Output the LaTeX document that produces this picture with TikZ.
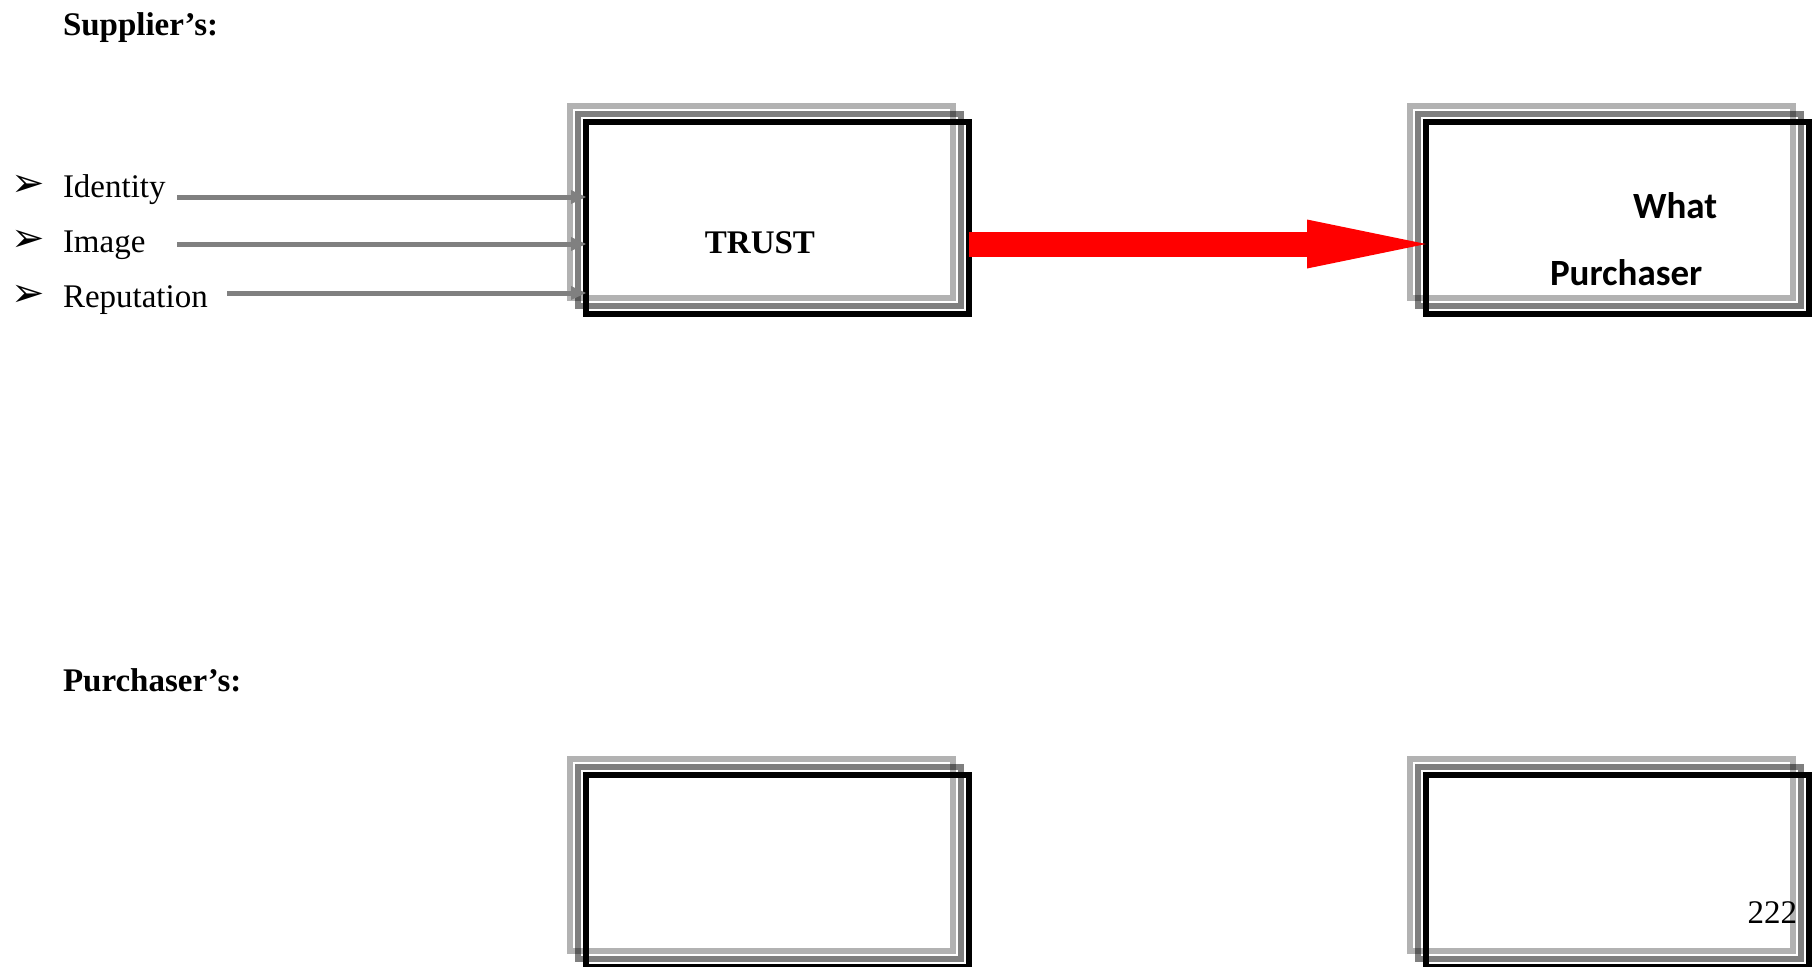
\documentclass[tikz,border=0pt]{standalone}
\usepackage{fontspec}
\setmainfont{Liberation Serif}
\newfontfamily\calibrifont{Carlito}
\newfontfamily\symbolfont{DejaVu Sans}
\usetikzlibrary{arrows.meta}
\definecolor{feedgray}{HTML}{808080}
\begin{document}
\begin{tikzpicture}[x=0.5pt,y=-0.5pt,
  every node/.style={inner sep=0pt,outer sep=0pt},
  txt/.style={font=\fontsize{16.5pt}{19pt}\selectfont},
  headtxt/.style={font=\fontsize{16.5pt}{19pt}\selectfont\bfseries},
  sanstxt/.style={font=\calibrifont\fontsize{18.5pt}{21pt}\selectfont\bfseries},
  bullettxt/.style={font=\symbolfont\fontsize{20pt}{22pt}\selectfont},
  mainbox/.style={draw=black,line width=3pt,minimum width=191.5pt,minimum height=96pt,anchor=north west},
  shadowlight/.style={draw=black,draw opacity=0.3,line width=3pt},
  shadowdark/.style={draw=black,draw opacity=0.5,line width=3pt},
  feed/.style={draw=feedgray,line width=2.5pt,-{Triangle[length=7.5pt,width=7pt,line width=0pt]}},
  bigarrow/.style={draw=red,line width=12.5pt,-{Triangle[length=59.5pt,width=24.5pt,line width=0pt]}}
]
\useasboundingbox (0,0) rectangle (1816,966);

% headings
\node[headtxt,anchor=base west] (supplier) at (63,35) {Supplier’s:};
\node[headtxt,anchor=base west] (purchaser) at (63,691) {Purchaser’s:};

% boxes
\node[mainbox] (trust) at (586,122) {};
\node[mainbox] (what) at (1426,122) {};
\node[mainbox] (boxc) at (586,775) {};
\node[mainbox] (boxd) at (1426,775) {};

\foreach \n in {trust,what,boxc,boxd}{
  \draw[shadowlight] ([shift={(-16,-16)}]\n.north west) rectangle ([shift={(-16,-16)}]\n.south east);
  \draw[shadowdark] ([shift={(-8,-8)}]\n.north west) rectangle ([shift={(-8,-8)}]\n.south east);
}

% box texts
\node[headtxt,anchor=base] (trusttxt) at (760,253) {TRUST};
\node[sanstxt,anchor=base west] (whattxt) at (1633,218) {What};
\node[sanstxt,anchor=base west] (purchasertxt) at (1550,285) {Purchaser};
\node[txt,anchor=base east] (pagenum) at (1797,923) {222};

% bullet list
\node[bullettxt] (b1) at (28,186) {➢};
\node[bullettxt] (b2) at (28,241) {➢};
\node[bullettxt] (b3) at (28,296) {➢};
\node[txt,anchor=base west] (identity) at (63,197) {Identity};
\node[txt,anchor=base west] (image) at (63,252) {Image};
\node[txt,anchor=base west] (reputation) at (63,307) {Reputation};

% connectors
\coordinate (c1) at (177,197);
\coordinate (c2) at (177,244);
\coordinate (c3) at (227,293);
\draw[feed] (c1) -- (c1 -| trust.west);
\draw[feed] (c2) -- (c2 -| trust.west);
\draw[feed] (c3) -- (c3 -| trust.west);

\draw[bigarrow] (trust.east |- c2) -- (what.west |- c2);
\end{tikzpicture}
\end{document}
